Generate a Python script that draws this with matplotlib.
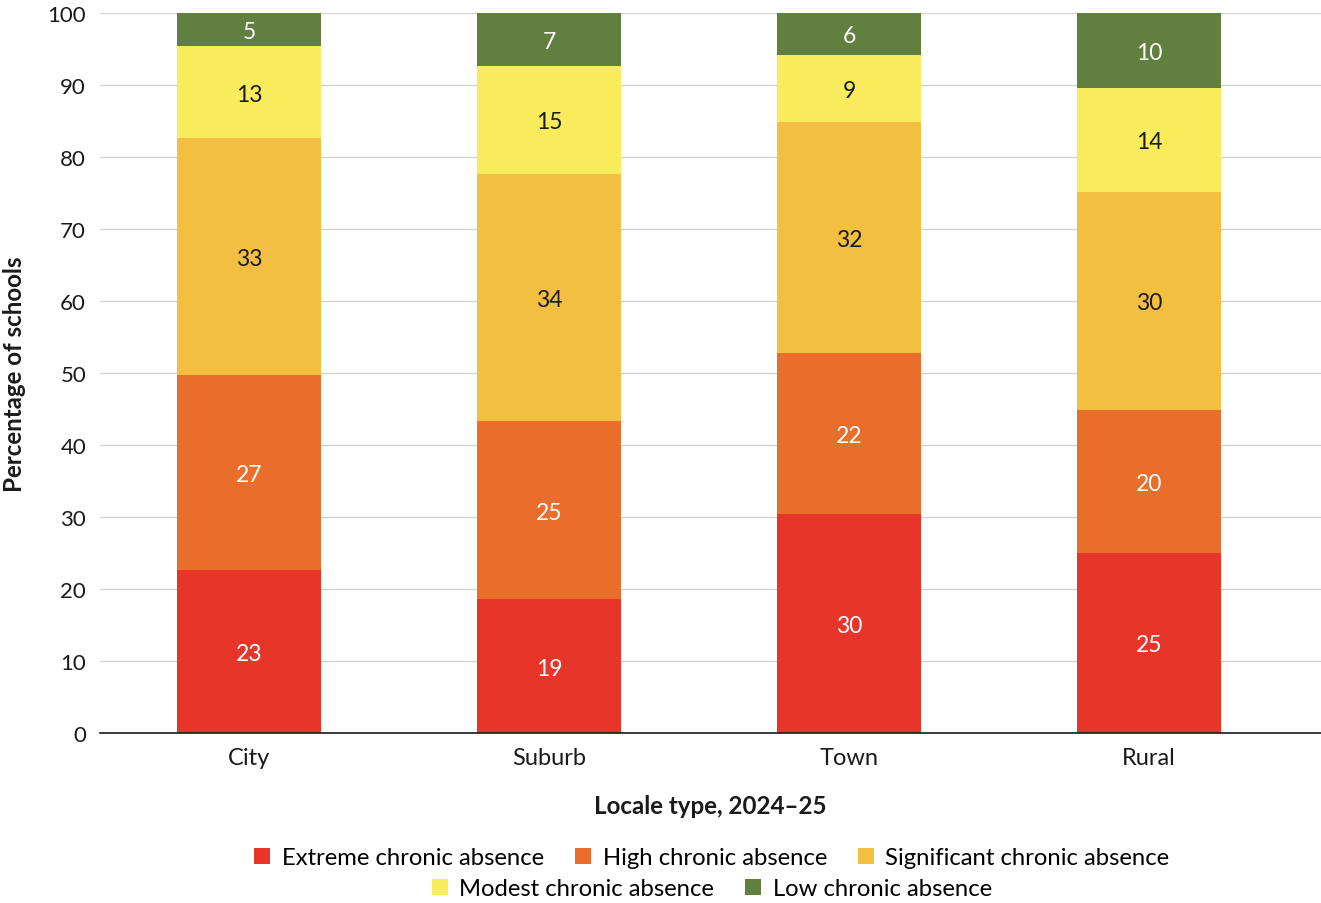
import numpy as np
import matplotlib.pyplot as plt
from matplotlib.patches import Patch

plt.rcParams["font.family"] = ["Lato", "DejaVu Sans"]

# Data: share of schools (%) by chronic absence level
locales = ["City", "Suburb", "Town", "Rural"]
levels = [
    "Extreme chronic absence",
    "High chronic absence",
    "Significant chronic absence",
    "Modest chronic absence",
    "Low chronic absence",
]
extreme = [22.6, 18.6, 30.4, 25.0]
high = [27.1, 24.7, 22.4, 19.8]
significant = [32.9, 34.3, 32.1, 30.4]
modest = [12.8, 15.1, 9.3, 14.4]
low = [4.6, 7.3, 5.8, 10.4]

series = [extreme, high, significant, modest, low]
colors = ["#E8352A", "#E96E2C", "#F2BF40", "#F8EC5C", "#617F3F"]
text_colors = ["white", "white", "#1a1a1a", "#1a1a1a", "white"]

fig = plt.figure(figsize=(13.21, 9.04), dpi=100)
ax = fig.add_axes([100 / 1321, 1 - 734 / 904, 1 - 100 / 1321, 720 / 904])

x = np.arange(len(locales))
bottom = np.zeros(len(locales))
for vals, color, tc in zip(series, colors, text_colors):
    vals = np.array(vals)
    ax.bar(x, vals, bottom=bottom, width=0.48, color=color, zorder=2)
    for xi, b, v in zip(x, bottom, vals):
        ax.text(xi, b + v / 2, f"{v:.0f}", ha="center", va="center_baseline",
                color=tc, fontsize=16.5, zorder=3)
    bottom += vals

ax.set_xlim(-0.497, 3.573)
ax.set_ylim(0, 100)
ax.set_yticks(range(0, 101, 10))
ax.set_xticks(x)
ax.set_xticklabels(locales)
ax.tick_params(axis="y", length=0, labelsize=16, colors="#1a1a1a", pad=10)
ax.tick_params(axis="x", length=0, labelsize=17, colors="#1a1a1a", pad=10)
ax.grid(axis="y", color="#d4d4d4", linewidth=1, zorder=0)
for s in ["top", "right", "left"]:
    ax.spines[s].set_visible(False)
ax.spines["bottom"].set_color("#1a1a1a")
ax.spines["bottom"].set_linewidth(1.2)
ax.spines["bottom"].set_zorder(4)

ax.set_xlabel("Locale type, 2024\u201325", fontsize=17.4, fontweight="bold",
              labelpad=19, color="#1a1a1a")
fig.text(15 / 1321, 1 - 374 / 904, "Percentage of schools", rotation=90,
         ha="center", va="center", fontsize=17.4, fontweight="bold", color="#1a1a1a")

handles = [Patch(facecolor=c, label=l) for c, l in zip(colors, levels)]
leg_kw = dict(frameon=False, fontsize=17.2, handlelength=0.65, handleheight=0.65,
              handletextpad=0.5, columnspacing=1.3, borderaxespad=0)
fig.legend(handles=handles[:3], ncol=3, loc="center",
           bbox_to_anchor=(712 / 1321, 1 - 859 / 904), **leg_kw)
fig.legend(handles=handles[3:], ncol=2, loc="center",
           bbox_to_anchor=(712 / 1321, 1 - 890 / 904), **leg_kw)

fig.savefig("out.png", dpi=100)
